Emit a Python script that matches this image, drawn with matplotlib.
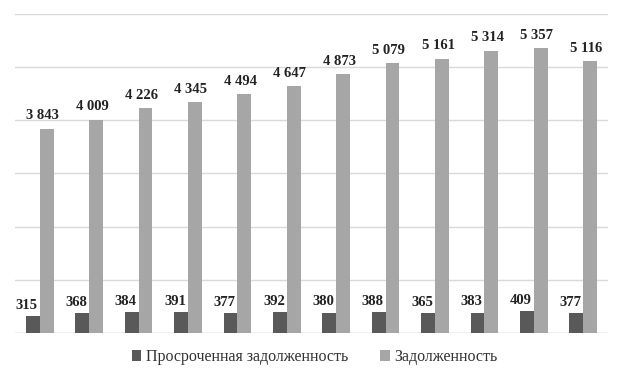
import matplotlib.pyplot as plt
import numpy as np

# Data
overdue = [315, 368, 384, 391, 377, 392, 380, 388, 365, 383, 409, 377]
debt = [3843, 4009, 4226, 4345, 4494, 4647, 4873, 5079, 5161, 5314, 5357, 5116]
series_names = ['Просроченная задолженность', 'Задолженность']


def fmt(v):
    return '{:,}'.format(v).replace(',', ' ')


plt.rcParams['font.family'] = ['Liberation Serif', 'DejaVu Serif']

fig = plt.figure(figsize=(6.23, 3.8), dpi=100)
ax = fig.add_axes([0.024, 0.124, 0.952, 0.839])

x = np.arange(len(debt))
w = 0.28
dark = '#595959'
light = '#a6a6a6'

b1 = ax.bar(x - w / 2, overdue, w, color=dark, label=series_names[0], zorder=3)
b2 = ax.bar(x + w / 2, debt, w, color=light, label=series_names[1], zorder=3)

for xi, v in zip(x, overdue):
    ax.text(xi - w / 2 - 0.12, v + 80, fmt(v), ha='center', va='bottom',
            fontsize=10.5, fontweight='bold', color='#222222')
for xi, v in zip(x, debt):
    ax.text(xi + w / 2 - 0.08, v + 120, fmt(v), ha='center', va='bottom',
            fontsize=10.5, fontweight='bold', color='#222222')

ax.set_xlim(-0.5, len(debt) - 0.5)
ax.set_ylim(0, 6000)
ax.set_yticks(np.arange(0, 6001, 1000))
ax.yaxis.grid(True, color='#d9d9d9', linewidth=1, zorder=0)
ax.set_xticks([])
ax.tick_params(left=False, labelleft=False)
for s in ax.spines.values():
    s.set_visible(False)
ax.axhline(0, color='#d0d0d0', linewidth=1, zorder=2)

fig.legend(handles=[b1, b2], loc='center', bbox_to_anchor=(0.505, 0.06), ncol=2,
           frameon=False, fontsize=11.5, handlelength=0.6, handleheight=0.6,
           handletextpad=0.3, columnspacing=2.0, labelcolor='#333333')

fig.savefig('out.png', dpi=100)
